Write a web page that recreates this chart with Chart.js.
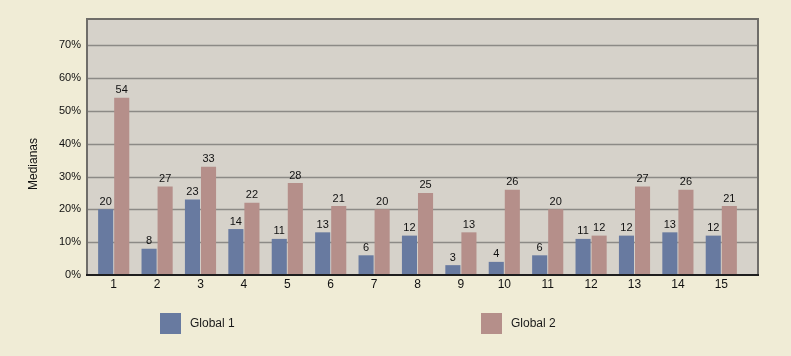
<!DOCTYPE html>
<html>
<head>
<meta charset="utf-8">
<script src="https://cdn.jsdelivr.net/npm/chart.js@4/dist/chart.umd.min.js"></script>
<style>
  body { margin: 0; background: #f0ecd6; font-family: "Liberation Sans", Arial, sans-serif; }
  #wrap { position: relative; width: 791px; height: 356px; }
  .leg { position: absolute; top: 313px; height: 21px; line-height: 21px; font-size: 12px; color: #1a1a1a; }
  .leg span { position: absolute; left: 0; top: 0; width: 21px; height: 21px; }
  .leg b { position: absolute; left: 30px; top: 0; font-weight: normal; white-space: nowrap; }
</style>
</head>
<body>
<div id="wrap">
  <canvas id="chart" width="791" height="356"></canvas>
  <div class="leg" style="left:160px"><span id="sw1"></span><b id="lb1"></b></div>
  <div class="leg" style="left:481px"><span id="sw2"></span><b id="lb2"></b></div>
</div>
<script>
const categories = ['1', '2', '3', '4', '5', '6', '7', '8', '9', '10', '11', '12', '13', '14', '15'];
const global1 = [20, 8, 23, 14, 11, 13, 6, 12, 3, 4, 6, 11, 12, 13, 12];
const global2 = [54, 27, 33, 22, 28, 21, 20, 25, 13, 26, 20, 12, 27, 26, 21];
const seriesNames = ['Global 1', 'Global 2'];
const seriesColors = ['#687aa0', '#b58f8a'];

// legend (html, below the plot)
document.getElementById('sw1').style.background = seriesColors[0];
document.getElementById('sw2').style.background = seriesColors[1];
document.getElementById('lb1').textContent = seriesNames[0];
document.getElementById('lb2').textContent = seriesNames[1];

// grey plot box, grid lines and frame (box is a bit wider than the bar area)
const framePlugin = {
  id: 'frame',
  beforeDatasetsDraw(chart) {
    const ctx = chart.ctx;
    const y = chart.scales.y;
    const a = chart.chartArea;
    const left = 87, right = 758;
    ctx.save();
    ctx.fillStyle = '#d6d2ca';
    ctx.fillRect(left, a.top, right - left, a.bottom - a.top);
    ctx.strokeStyle = '#8c8a86';
    ctx.lineWidth = 1.5;
    for (let v = 10; v <= 70; v += 10) {
      const py = Math.round(y.getPixelForValue(v)) + 0.5;
      ctx.beginPath();
      ctx.moveTo(left, py);
      ctx.lineTo(right, py);
      ctx.stroke();
    }
    ctx.restore();
  },
  afterDatasetsDraw(chart) {
    const ctx = chart.ctx;
    const a = chart.chartArea;
    const left = 87, right = 758;
    ctx.save();
    ctx.lineWidth = 2;
    ctx.strokeStyle = '#6f6d69';
    ctx.beginPath();
    ctx.moveTo(left, a.bottom);
    ctx.lineTo(left, a.top);
    ctx.lineTo(right, a.top);
    ctx.lineTo(right, a.bottom);
    ctx.stroke();
    ctx.strokeStyle = '#1e1e1e';
    ctx.beginPath();
    ctx.moveTo(left - 1, a.bottom);
    ctx.lineTo(right + 1, a.bottom);
    ctx.stroke();

    // value labels
    ctx.fillStyle = '#111';
    ctx.font = '11px "Liberation Sans", Arial, sans-serif';
    ctx.textAlign = 'center';
    ctx.textBaseline = 'bottom';
    chart.data.datasets.forEach((ds, i) => {
      chart.getDatasetMeta(i).data.forEach((bar, j) => {
        ctx.fillText(String(ds.data[j]), bar.x, bar.y - 2);
      });
    });

    // y axis title
    ctx.font = '12px "Liberation Sans", Arial, sans-serif';
    ctx.textBaseline = 'middle';
    ctx.translate(34, 164);
    ctx.rotate(-Math.PI / 2);
    ctx.fillText('Medianas', 0, 0);
    ctx.restore();
  }
};

new Chart(document.getElementById('chart').getContext('2d'), {
  type: 'bar',
  data: {
    labels: categories,
    datasets: [
      { label: seriesNames[0], data: global1, backgroundColor: seriesColors[0] },
      { label: seriesNames[1], data: global2, backgroundColor: seriesColors[1] }
    ]
  },
  options: {
    responsive: false,
    animation: false,
    events: [],
    categoryPercentage: 0.74,
    barPercentage: 0.94,
    layout: { padding: { top: 19, right: 48, left: 0, bottom: 0 } },
    plugins: {
      legend: { display: false },
      tooltip: { enabled: false }
    },
    scales: {
      x: {
        grid: { display: false, drawTicks: false },
        border: { display: false },
        ticks: { color: '#111', font: { size: 12, family: '"Liberation Sans", Arial, sans-serif' }, padding: 2, maxRotation: 0 },
        afterFit(scale) { scale.height = 81; }
      },
      y: {
        min: 0,
        max: 78,
        grid: { display: false, drawTicks: false },
        border: { display: false },
        ticks: {
          stepSize: 10,
          includeBounds: false,
          padding: 11,
          color: '#111',
          font: { size: 11, family: '"Liberation Sans", Arial, sans-serif' },
          callback: v => (v % 10 === 0 ? v + '%' : '')
        },
        afterFit(scale) { scale.width = 92; }
      }
    }
  },
  plugins: [framePlugin]
});
</script>
</body>
</html>
